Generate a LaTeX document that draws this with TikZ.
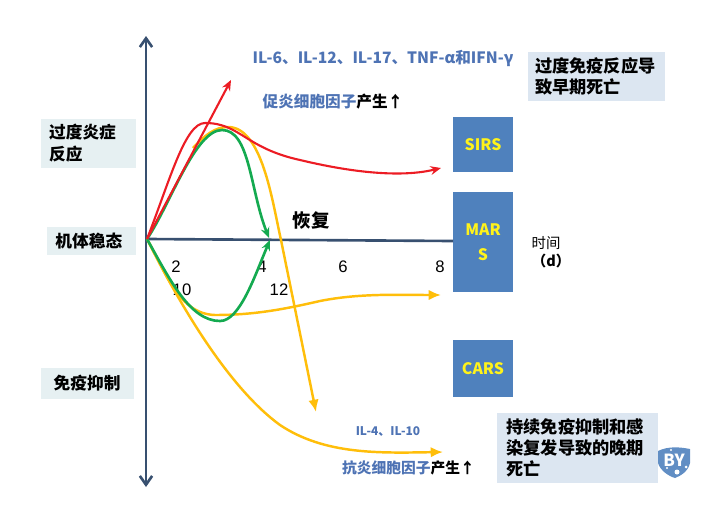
\documentclass[tikz,border=0pt]{standalone}
\usepackage{xcolor}
\usepackage{fontspec}
\setmainfont{Noto Sans CJK SC}
\newfontfamily\numfont{Liberation Sans}
\usepackage{tikz}
\usetikzlibrary{positioning,arrows.meta,calc}
\definecolor{axiscolor}{RGB}{56,80,112}
\definecolor{boxcolor}{RGB}{79,129,189}
\definecolor{notecolor}{RGB}{220,230,241}
\definecolor{sidecolor}{RGB}{230,240,242}
\definecolor{labelcolor}{RGB}{78,115,180}
\definecolor{redcurve}{RGB}{236,28,36}
\definecolor{greencurve}{RGB}{20,170,80}
\definecolor{yellowcurve}{RGB}{255,190,10}
\tikzset{
    axis line/.style={line width=1.5pt, axiscolor},
    axis arrow/.style={axis line, {Straight Barb[length=5pt,width=7pt]}-{Straight Barb[length=5pt,width=7pt]}},
    state box/.style={rectangle, fill=boxcolor, text=yellow!90!white, font=\bfseries\fontsize{9}{12}\selectfont, minimum width=34pt, inner sep=0pt, align=center},
    note box/.style={rectangle, fill=notecolor, font=\bfseries\fontsize{9.8}{11.8}\selectfont, align=left, inner sep=0pt},
    side box/.style={rectangle, fill=sidecolor, font=\bfseries\fontsize{9.5}{12.4}\selectfont, align=left, inner sep=0pt},
    cytokine/.style={font=\bfseries\fontsize{8.9}{10}\selectfont, text=labelcolor},
    factor label/.style={font=\bfseries\fontsize{8.9}{10}\selectfont},
    tick label/.style={font=\numfont\fontsize{9.5}{11}\selectfont},
    red line/.style={redcurve, line width=1.2pt, -{Stealth[length=6pt,width=5pt]}},
    green line/.style={greencurve, line width=1.5pt, -{Stealth[length=6pt,width=5pt]}},
    yellow line/.style={yellowcurve, line width=1.4pt, -{Latex[length=7pt,width=6pt]}}
}
\begin{document}
\begin{tikzpicture}[x=0.02cm, y=-0.02cm]
    \useasboundingbox (0,0) rectangle (709,507);

    % axes
    \coordinate (top) at (146,36);
    \coordinate (bottom) at (146,487);
    \coordinate (origin) at (147,239);
    \coordinate (axisend) at (453,241);
    \draw[axis arrow] (bottom) -- (top);

    % state boxes
    \node[state box, minimum height=31.2pt] (sirs) at (483,144.5) {SIRS};
    \node[state box, minimum height=56.7pt] (mars) at (483,242) {MAR\\[2pt]S};
    \node[state box, minimum height=32.3pt] (cars) at (483,368.5) {CARS};
    \draw[axis line] (origin) -- (axisend);

    % notes
    \node[note box, minimum width=77.6pt, minimum height=27.8pt, text width=70pt] (early) at (596.5,76.5) {过度免疫反应导\\致早期死亡};
    \node[note box, minimum width=91.3pt, minimum height=39.7pt, text width=81pt] (late) at (577.5,448) {持续免疫抑制和感\\染复发导致的晚期\\死亡};
    \node[side box, minimum width=53.9pt, minimum height=27.8pt, text width=44.8pt] (over) at (88.5,143.5) {过度炎症\\反应};
    \node[side box, minimum width=50.5pt, minimum height=15.9pt, text width=41pt] (steady) at (91.5,241) {机体稳态};
    \node[side box, minimum width=52.7pt, minimum height=17.6pt, text width=38.5pt] (suppress) at (87.5,383.5) {免疫抑制};

    % cytokine labels
    \node[cytokine] (pro) at (383,58) {IL-6、IL-12、IL-17、TNF-α和IFN-γ};
    \node[factor label] (prolabel) at (333,102) {\textcolor{labelcolor}{促炎细胞因子}产生↑};
    \node[cytokine, font=\fontsize{6.8}{9}\selectfont\bfseries] (anti) at (388,431) {IL-4、IL-10};
    \node[factor label, font=\bfseries\fontsize{8.4}{10}\selectfont] (antilabel) at (408.5,468) {\textcolor{labelcolor}{抗炎细胞因子}产生↑};

    % time axis labels
    \node[tick label] (t2) at (176,267) {2};
    \node[tick label] (t4) at (262,267) {4};
    \node[tick label] (t6) at (343,267) {6};
    \node[tick label] (t8) at (440,267) {8};
    \node[tick label] (t10) at (182,290) {10};
    \node[tick label] (t12) at (279,290) {12};
    \node[font=\bfseries\fontsize{10.5}{12}\selectfont] (recover) at (311,221) {恢复};
    \node[font=\fontsize{8.2}{10}\selectfont] (time) at (546,243) {时间};
    \node[font=\bfseries\fontsize{8.2}{10}\selectfont] (unit) at (551,261) {（d）};

    % curve ends
    \coordinate (redtip) at (231,80);
    \coordinate (redend) at (441,168);
    \coordinate (recovertop) at (269,238);
    \coordinate (recoverlow) at (270,240);
    \coordinate (yellowstart) at (193,148);
    \coordinate (yellowdown) at (316,412);
    \coordinate (yellowmid) at (441,295);
    \coordinate (yellowlow) at (443,452);

    % curves
    \draw[yellow line] (yellowstart) .. controls (205,135) and (215,127) .. (228,127)
        .. controls (262,127) and (272,200) .. (281,240) -- (yellowdown);
    \draw[yellow line] (origin) .. controls (165,270) and (178,314) .. (215,315)
        .. controls (255,315) and (285,309) .. (320,301) .. controls (360,293) and (400,295) .. (yellowmid);
    \draw[yellow line] (origin) .. controls (175,295) and (225,385) .. (280,425)
        .. controls (325,455) and (380,453) .. (yellowlow);
    \draw[green line] (origin) .. controls (170,205) and (195,130) .. (222,130)
        .. controls (250,130) and (250,190) .. (recovertop);
    \draw[green line] (origin) .. controls (170,280) and (190,321) .. (220,321)
        .. controls (240,321) and (255,275) .. (recoverlow);
    \draw[red line] (origin) .. controls (170,180) and (185,123) .. (205,123)
        .. controls (240,123) and (245,148) .. (300,160) .. controls (350,172) and (400,178) .. (redend);
    \draw[red line] (origin) -- (redtip);

    % badge
    \fill[boxcolor!90!white] (658,451) .. controls (668,446) and (680,447) .. (690,449) -- (690,463)
        .. controls (688,472) and (680,476) .. (675,478) .. controls (668,476) and (660,470) .. (658,463) -- cycle;
    \node[font=\bfseries\fontsize{9.5}{10}\selectfont, text=white] (badge) at (674,460) {BY};
    \fill[white] (677,472) circle (2.5) (667,468) circle (1.2) (686,467) circle (1.5) (671,450) circle (1.2);
\end{tikzpicture}
\end{document}
